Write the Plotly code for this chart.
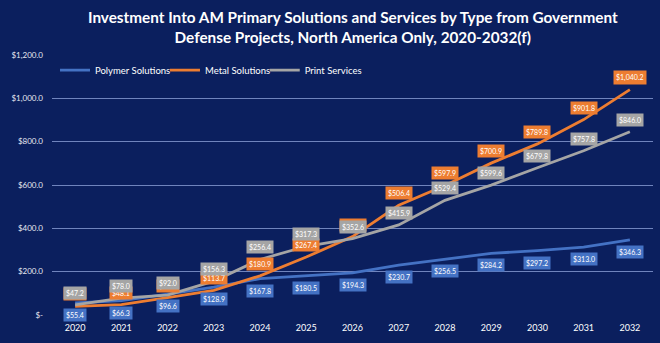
import plotly.graph_objects as go

years = ["2020", "2021", "2022", "2023", "2024", "2025", "2026",
         "2027", "2028", "2029", "2030", "2031", "2032"]
polymer = [55.4, 66.3, 96.6, 128.9, 167.8, 180.5, 194.3, 230.7, 256.5, 284.2, 297.2, 313.0, 346.3]
metal = [39.5, 48.1, 80.4, 113.7, 180.9, 267.4, 362.0, 506.4, 597.9, 700.9, 789.8, 901.8, 1040.2]
prints = [47.2, 78.0, 92.0, 156.3, 256.4, 317.3, 352.6, 415.9, 529.4, 599.6, 679.8, 757.8, 846.0]
y_ticks = [0, 200, 400, 600, 800, 1000, 1200]
y_ticktext = ["$-", "$200.0", "$400.0", "$600.0", "$800.0", "$1,000.0", "$1,200.0"]
title_lines = ["Investment Into AM Primary Solutions and Services by Type from Government",
               "Defense Projects, North America Only, 2020-2032(f)"]

BG = "#0b1f5e"
C_POLY = "#4472C4"
C_METAL = "#ED7D31"
C_PRINT = "#A5A5A5"
FONT = "Lato"

x = list(range(len(years)))

fig = go.Figure()
series = [("Polymer Solutions", polymer, C_POLY, -12, "legend", 0.005),
          ("Metal Solutions", metal, C_METAL, 12, "legend2", 0.188),
          ("Print Services", prints, C_PRINT, 12, "legend3", 0.354)]
for name, vals, col, _, lg, _lx in series:
    fig.add_trace(go.Scatter(x=x, y=vals, mode="lines", name=name, legend=lg,
                             line=dict(color=col, width=2.8), hoverinfo="skip"))

annotations = [dict(
    x=0.5, y=1.108, xref="paper", yref="paper", xanchor="center", yanchor="middle",
    text="<b>" + "<br>".join(title_lines) + "</b>", showarrow=False,
    font=dict(family=FONT, size=15.3, color="white"))]
for name, vals, col, shift, _lg, _lx in series:
    for xi, v in zip(x, vals):
        annotations.append(dict(
            x=xi, y=v, xref="x", yref="y", text=f"${v:,.1f}", showarrow=False,
            yshift=shift, bgcolor=col, borderpad=2,
            font=dict(family=FONT, size=7, color="white")))

legend_style = dict(orientation="h", y=0.942, xanchor="left", yanchor="middle",
                    bgcolor="rgba(0,0,0,0)", font=dict(family=FONT, size=9.5, color="white"),
                    itemwidth=30)
legends = {}
for name, vals, col, shift, lg, lx in series:
    legends[lg] = dict(legend_style, x=lx)

fig.update_layout(
    width=660, height=343,
    paper_bgcolor=BG, plot_bgcolor=BG,
    margin=dict(l=52, r=7, t=55, b=28),
    font=dict(family=FONT, color="white"),
    showlegend=True,
    annotations=annotations,
    xaxis=dict(range=[-0.5, len(years) - 0.5], tickvals=x, ticktext=years,
               showgrid=False, zeroline=False, showline=False, ticks="",
               ticklabelstandoff=6,
               tickfont=dict(family=FONT, size=9, color="white"), fixedrange=True),
    yaxis=dict(range=[0, 1200], tickvals=y_ticks, ticktext=y_ticktext,
               showgrid=True, gridcolor="#7084bd", gridwidth=1.2, zeroline=False,
               showline=False, ticks="", ticklabelstandoff=8,
               tickfont=dict(family=FONT, size=8, color="#e8e8f0"), fixedrange=True),
    **legends,
)

fig.write_html("out.html")
